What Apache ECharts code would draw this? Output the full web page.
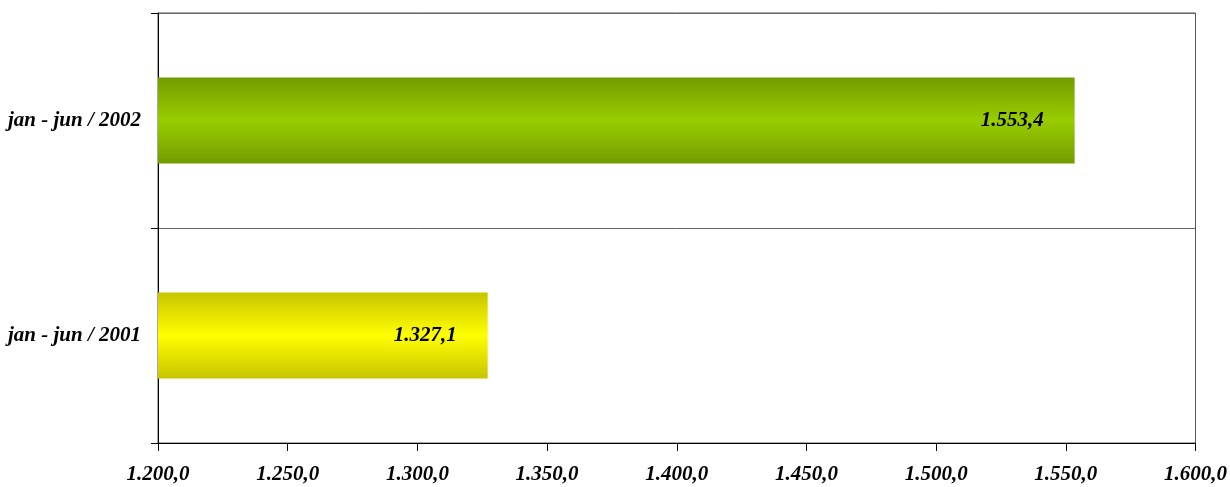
<!DOCTYPE html>
<html>
<head>
<meta charset="utf-8">
<script src="https://cdn.jsdelivr.net/npm/echarts@6/dist/echarts.min.js"></script>
<style>html,body{margin:0;padding:0;background:#fff}#c{width:1230px;height:487px}</style>
</head>
<body>
<div id="c"></div>
<script>
const categories = ['jan - jun / 2001', 'jan - jun / 2002'];
const values = [1327.1, 1553.4];
const axisMin = 1200, axisMax = 1600, axisStep = 50;

function fmt(v, d) {
  const parts = v.toFixed(d).split('.');
  parts[0] = parts[0].replace(/\B(?=(\d{3})+(?!\d))/g, '.');
  return parts.join(',');
}
function grad(edge, mid) {
  return new echarts.graphic.LinearGradient(0, 0, 0, 1, [
    {offset: 0, color: edge}, {offset: 0.5, color: mid}, {offset: 1, color: edge}
  ]);
}
const fills = [grad('#c8c400', '#ffff00'), grad('#739c00', '#99cc00')];
const font = {fontFamily: 'Liberation Serif', fontWeight: 'bold', fontStyle: 'italic', color: '#000'};

const chart = echarts.init(document.getElementById('c'));
chart.setOption({
  animation: false,
  grid: {left: 158, right: 34, top: 13, bottom: 44, show: true, borderColor: '#555', borderWidth: 1},
  xAxis: {
    type: 'value', min: axisMin, max: axisMax, interval: axisStep,
    axisLine: {show: true, lineStyle: {color: '#000', width: 1}},
    axisTick: {show: true, length: 8, lineStyle: {color: '#000'}},
    splitLine: {show: false},
    axisLabel: Object.assign({fontSize: 21, margin: 21, formatter: v => fmt(v, 1)}, font)
  },
  yAxis: {
    type: 'category', data: categories,
    axisLine: {show: true, lineStyle: {color: '#000', width: 1}},
    axisTick: {show: true, length: 7, lineStyle: {color: '#000'}},
    splitLine: {show: true, lineStyle: {color: '#666', width: 1}},
    axisLabel: Object.assign({fontSize: 21, margin: 17}, font)
  },
  series: [{
    type: 'bar',
    barWidth: 86,
    data: values.map((v, i) => ({value: v, itemStyle: {color: fills[i]}})),
    label: Object.assign({show: true, position: 'insideRight', distance: 31, fontSize: 21,
      formatter: p => fmt(p.value, 1)}, font)
  }]
});
</script>
</body>
</html>
